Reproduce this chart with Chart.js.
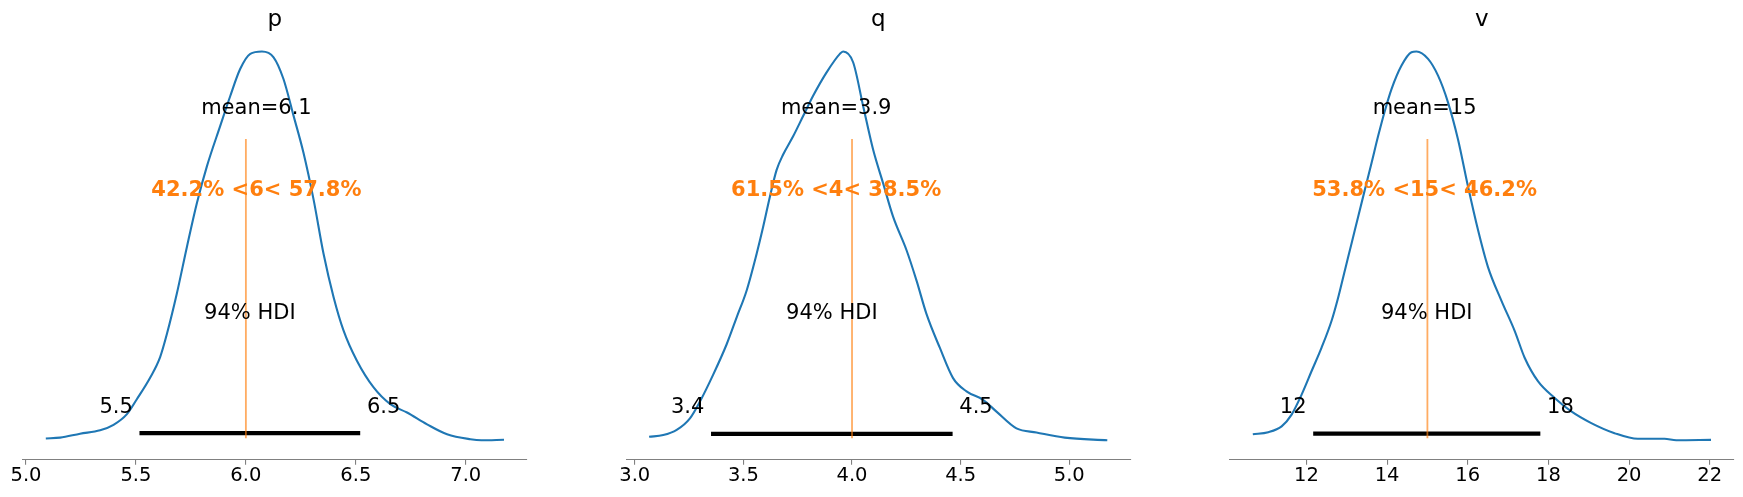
<!DOCTYPE html>
<html>
<head>
<meta charset="utf-8">
<script src="https://cdn.jsdelivr.net/npm/chart.js@4.4.0/dist/chart.umd.min.js"></script>
<style>
  body { margin: 0; background: #fff; }
  #fig { position: relative; width: 1743px; height: 497px; }
  #fig canvas { position: absolute; left: 0; top: 0; }
</style>
</head>
<body>
<div id="fig">
  <canvas id="panel0" width="1743" height="497"></canvas>
  <canvas id="panel1" width="1743" height="497"></canvas>
  <canvas id="panel2" width="1743" height="497"></canvas>
</div>
<script>
// posterior densities
const pX = [5.090,5.155,5.246,5.337,5.398,5.459,5.504,5.565,5.610,5.641,5.686,5.732,5.777,5.823,5.883,5.929,5.974,6.020,6.073,6.126,6.171,6.217,6.262,6.308,6.353,6.399,6.444,6.505,6.581,6.657,6.733,6.824,6.915,7.021,7.071,7.174];
const pY = [0.011,0.014,0.029,0.042,0.063,0.104,0.161,0.244,0.322,0.411,0.565,0.744,0.910,1.052,1.205,1.320,1.423,1.481,1.490,1.468,1.385,1.244,1.103,0.924,0.718,0.551,0.424,0.308,0.206,0.142,0.110,0.065,0.027,0.008,0.004,0.006];

const qX = [3.066,3.131,3.193,3.254,3.300,3.361,3.423,3.469,3.515,3.561,3.591,3.622,3.653,3.683,3.729,3.775,3.821,3.883,3.944,3.959,4.005,4.051,4.097,4.143,4.189,4.251,4.297,4.343,4.404,4.465,4.527,4.603,4.665,4.757,4.849,4.979,5.175];
const qY = [0.018,0.024,0.042,0.082,0.140,0.233,0.338,0.431,0.524,0.651,0.744,0.848,0.941,0.994,1.057,1.127,1.197,1.278,1.342,1.350,1.313,1.162,1.011,0.895,0.779,0.663,0.558,0.442,0.326,0.221,0.175,0.146,0.105,0.047,0.033,0.015,0.006];

const vX = [10.671,11.054,11.386,11.633,11.881,12.129,12.376,12.624,12.788,12.953,13.119,13.283,13.449,13.615,13.778,13.944,14.110,14.358,14.605,14.729,15.016,15.264,15.512,15.759,16.007,16.255,16.502,16.834,17.163,17.411,17.740,18.154,18.568,19.063,19.640,20.217,20.879,21.170,22.031];
const vY = [0.0053,0.0067,0.0107,0.0188,0.0327,0.0490,0.0652,0.0838,0.0999,0.1186,0.1372,0.1558,0.1744,0.1929,0.2115,0.2289,0.2440,0.2603,0.2695,0.2700,0.2649,0.2533,0.2347,0.2092,0.1766,0.1465,0.1209,0.0977,0.0768,0.0582,0.0420,0.0304,0.0211,0.0130,0.0060,0.0021,0.0021,0.0011,0.0014];

const names = ["p", "q", "v"];
const means = [6.048, 3.927, 14.93];
const meanLabels = ["6.1", "3.9", "15"];
const refVals = [6, 4, 15];
const belowRef = ["42.2", "61.5", "53.8"];
const aboveRef = ["57.8", "38.5", "46.2"];
const hdiLow = [5.516, 3.351, 12.168];
const hdiHigh = [6.520, 4.463, 17.80];
const hdiLowLabels = ["5.5", "3.4", "12"];
const hdiHighLabels = ["6.5", "4.5", "18"];

const pTicks = [5.0, 5.5, 6.0, 6.5, 7.0];
const qTicks = [3.0, 3.5, 4.0, 4.5, 5.0];
const vTicks = [12, 14, 16, 18, 20, 22];
const pTickLabels = ["5.0", "5.5", "6.0", "6.5", "7.0"];
const qTickLabels = ["3.0", "3.5", "4.0", "4.5", "5.0"];
const vTickLabels = ["12", "14", "16", "18", "20", "22"];

const allX = [pX, qX, vX];
const allY = [pY, qY, vY];
const allTicks = [pTicks, qTicks, vTicks];
const allTickLabels = [pTickLabels, qTickLabels, vTickLabels];

// where each axes box sits in the figure
const axLeft = [22.9, 626.2, 1229.9];
const axWidth = 504;
const axTop = 32.1;
const axBottom = 459.7;
const figW = 1743, figH = 497;

const FONT = "'DejaVu Sans', 'Liberation Sans', sans-serif";
const BLUE = "#1f77b4";
const ORANGE = "#ff7f0e";
const GREY = "#808080";

// texts like arviz plot_posterior puts them
const textosPosterior = {
    id: "textosPosterior",
    afterDatasetsDraw: function(chart, args, opts) {
        const i = opts.panel;
        const sx = chart.scales.x;
        const sy = chart.scales.y;
        const top = sy.max;
        const ctx = chart.ctx;
        const area = chart.chartArea;

        ctx.save();
        ctx.fillStyle = "#000";
        ctx.textBaseline = "alphabetic";

        //titulo
        ctx.font = "23px " + FONT;
        ctx.textAlign = "center";
        ctx.fillText(names[i], (area.left + area.right) / 2, area.top - 6.2);

        ctx.font = "21px " + FONT;
        ctx.fillText("mean=" + meanLabels[i], sx.getPixelForValue(means[i]), sy.getPixelForValue(top * 0.8));

        let hdiMid = (hdiLow[i] + hdiHigh[i]) / 2;
        ctx.fillText("94% HDI", sx.getPixelForValue(hdiMid), sy.getPixelForValue(top * 0.3));

        ctx.textAlign = "right";
        ctx.fillText(hdiLowLabels[i] + " ", sx.getPixelForValue(hdiLow[i]), sy.getPixelForValue(top * 0.07));
        ctx.textAlign = "left";
        ctx.fillText(" " + hdiHighLabels[i], sx.getPixelForValue(hdiHigh[i]), sy.getPixelForValue(top * 0.07));

        ctx.font = "bold 21px " + FONT;
        ctx.fillStyle = ORANGE;
        ctx.textAlign = "center";
        let textoRef = belowRef[i] + "% <" + refVals[i] + "< " + aboveRef[i] + "%";
        ctx.fillText(textoRef, sx.getPixelForValue(means[i]), sy.getPixelForValue(top * 0.6));
        ctx.restore();
    }
};

function crearPanel(i) {
    const xs = allX[i];
    const ys = allY[i];

    // limits with the 5% margins matplotlib uses
    let xMin = Math.min(...xs), xMax = Math.max(...xs);
    let yMin = Math.min(...ys), yMax = Math.max(...ys);
    let dx = (xMax - xMin) * 0.05;
    let dy = (yMax - yMin) * 0.05;
    let yLo = yMin - dy, yHi = yMax + dy;

    let curva = xs.map((x, k) => ({x: x, y: ys[k]}));
    let barraHdi = [{x: hdiLow[i], y: yHi * 0.02}, {x: hdiHigh[i], y: yHi * 0.02}];
    let lineaRef = [
        {x: refVals[i], y: yLo + 0.05 * (yHi - yLo)},
        {x: refVals[i], y: yLo + 0.75 * (yHi - yLo)}
    ];

    const ticks = allTicks[i];
    const tickLabels = allTickLabels[i];

    return new Chart(document.getElementById("panel" + i), {
        type: "line",
        data: {
            datasets: [
                {
                    data: lineaRef,
                    borderColor: "rgba(255, 127, 14, 0.65)",
                    borderWidth: 1.8,
                    pointRadius: 0,
                    borderCapStyle: "butt"
                },
                {
                    data: barraHdi,
                    borderColor: "#000",
                    borderWidth: 4.2,
                    pointRadius: 0,
                    borderCapStyle: "butt"
                },
                {
                    data: curva,
                    borderColor: BLUE,
                    borderWidth: 2.1,
                    pointRadius: 0,
                    cubicInterpolationMode: "monotone",
                    fill: false
                }
            ]
        },
        options: {
            responsive: false,
            animation: false,
            devicePixelRatio: 1,
            events: [],
            layout: {
                padding: {
                    left: axLeft[i],
                    right: figW - axLeft[i] - axWidth,
                    top: axTop,
                    bottom: 0
                }
            },
            plugins: {
                legend: {display: false},
                tooltip: {enabled: false},
                textosPosterior: {panel: i}
            },
            scales: {
                x: {
                    type: "linear",
                    min: xMin - dx,
                    max: xMax + dx,
                    afterBuildTicks: function(axis) {
                        axis.ticks = ticks.map(v => ({value: v}));
                    },
                    afterFit: function(axis) {
                        axis.height = figH - axBottom;
                    },
                    grid: {
                        display: true,
                        drawOnChartArea: false,
                        drawTicks: true,
                        tickLength: 5,
                        color: GREY,
                        lineWidth: 1.1
                    },
                    border: {display: true, color: GREY, width: 1.1},
                    ticks: {
                        color: "#000",
                        padding: 0,
                        maxRotation: 0,
                        autoSkip: false,
                        font: {family: FONT, size: 19.5},
                        callback: function(value, index) {
                            return tickLabels[index];
                        }
                    }
                },
                y: {
                    type: "linear",
                    display: false,
                    min: yLo,
                    max: yHi
                }
            }
        },
        plugins: [textosPosterior]
    });
}

for (let i = 0; i < 3; i++) {
    crearPanel(i);
}
</script>
</body>
</html>
